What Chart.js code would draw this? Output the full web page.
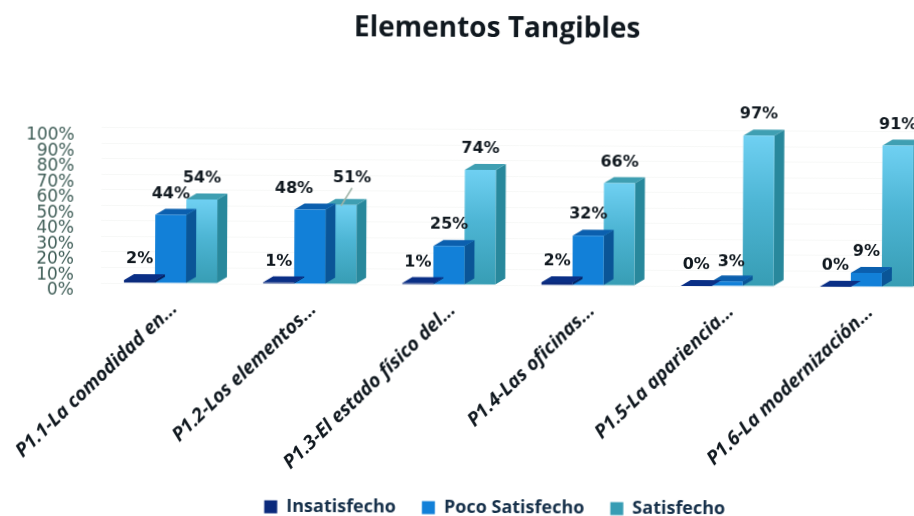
<!DOCTYPE html>
<html lang="es">
<head>
<meta charset="utf-8">
<title>Elementos Tangibles</title>
<script src="https://cdn.jsdelivr.net/npm/chart.js@4"></script>
<style>
  html, body { margin: 0; padding: 0; width: 914px; height: 516px; overflow: hidden; background: #fff; }
  #wrap { position: absolute; left: 0; top: 0; width: 992px; height: 516px; transform: rotate(0.3deg); transform-origin: 496px 258px; }
</style>
</head>
<body>
<div id="wrap"><canvas id="chart" width="992" height="516"></canvas></div>
<script>
const categories = ['P1.1-La comodidad en...', 'P1.2-Los elementos...', 'P1.3-El estado físico del...', 'P1.4-Las oficinas...', 'P1.5-La apariencia...', 'P1.6-La modernización...'];
const insatisfecho = [2, 1, 1, 2, 0, 0];
const pocoSatisfecho = [44, 48, 25, 32, 3, 9];
const satisfecho = [54, 51, 74, 66, 97, 91];
const seriesNames = ['Insatisfecho', 'Poco Satisfecho', 'Satisfecho'];
const yTicks = [0, 10, 20, 30, 40, 50, 60, 70, 80, 90, 100];

// Extruded faces of each series
const DEPTH_X = 10, DEPTH_Y = 6;
const faces = [
  { top: '#0a2f86', side: '#06205f' },
  { top: '#0b5fae', side: '#0a5597' },
  { top: '#3f9fb2', side: '#28889c' }
];

// Value labels that sit away from their bar: [series, category, dx, dy]
const labelNudges = [[1, 1, -16, 0], [2, 1, 11, -6], [1, 4, 4, 2]];

function lightBarFill(ctx) {
  const solid = '#4fb8d6';
  if (ctx.type !== 'data') return solid;
  const y = ctx.chart.scales.y;
  const top = y.getPixelForValue(ctx.raw), base = y.getPixelForValue(0);
  if (!Number.isFinite(top) || !Number.isFinite(base)) return solid;
  const g = ctx.chart.ctx.createLinearGradient(0, top, 0, base);
  g.addColorStop(0, '#6fd0f2');
  g.addColorStop(0.45, '#4db5d4');
  g.addColorStop(1, '#379db4');
  return g;
}

// Draws the top and side of every bar just before the front faces of its series
const extrude = {
  id: 'extrude',
  beforeDatasetDraw(chart, args) {
    const { ctx } = chart, f = faces[args.index];
    chart.getDatasetMeta(args.index).data.forEach(bar => {
      const { x, y, base, width } = bar.getProps(['x', 'y', 'base', 'width'], true);
      const l = x - width / 2, r = x + width / 2;
      ctx.fillStyle = f.side;
      ctx.beginPath();
      ctx.moveTo(r, y); ctx.lineTo(r + DEPTH_X, y - DEPTH_Y);
      ctx.lineTo(r + DEPTH_X, base - DEPTH_Y); ctx.lineTo(r, base);
      ctx.closePath(); ctx.fill();
      ctx.fillStyle = f.top;
      ctx.beginPath();
      ctx.moveTo(l, y); ctx.lineTo(l + DEPTH_X, y - DEPTH_Y);
      ctx.lineTo(r + DEPTH_X, y - DEPTH_Y); ctx.lineTo(r, y);
      ctx.closePath(); ctx.fill();
    });
  },
  afterDatasetsDraw(chart) {
    const { ctx } = chart;
    ctx.save();
    ctx.font = 'bold 16px "DejaVu Sans"';
    ctx.fillStyle = '#10181f';
    ctx.textAlign = 'center';
    ctx.textBaseline = 'middle';
    chart.data.datasets.forEach((ds, s) => {
      chart.getDatasetMeta(s).data.forEach((bar, i) => {
        const n = labelNudges.find(a => a[0] === s && a[1] === i);
        const lx = bar.x + (n ? n[2] : 0), ly = bar.y - 21 + (n ? n[3] : 0);
        ctx.fillText(ds.data[i] + '%', lx, ly);
        if (s === 2 && i === 1) {
          // Leader line joining the displaced label to its bar
          ctx.strokeStyle = '#9fb4a8';
          ctx.lineWidth = 1.5;
          ctx.beginPath();
          ctx.moveTo(lx, ly + 10);
          ctx.lineTo(bar.x, bar.y + 1);
          ctx.stroke();
        }
      });
    });
    ctx.restore();
  }
};

new Chart(document.getElementById('chart'), {
  type: 'bar',
  data: {
    labels: categories,
    datasets: [
      { label: seriesNames[0], data: insatisfecho, backgroundColor: '#0b2a7c' },
      { label: seriesNames[1], data: pocoSatisfecho, backgroundColor: '#1280d8' },
      { label: seriesNames[2], data: satisfecho, backgroundColor: lightBarFill }
    ]
  },
  plugins: [extrude],
  options: {
    responsive: false,
    animation: false,
    layout: { padding: { left: 0, right: 0, top: 12, bottom: -11 } },
    datasets: { bar: { categoryPercentage: 0.668, barPercentage: 1, borderWidth: 0 } },
    scales: {
      x: {
        grid: { display: false },
        border: { display: false },
        ticks: {
          autoSkip: false, minRotation: 44, maxRotation: 44, padding: 6, labelOffset: 4,
          color: '#10181f', font: { family: '"Open Sans"', size: 19.2, style: 'italic', weight: 'bold' }
        },
        afterFit(scale) { scale.height = 188; }
      },
      y: {
        min: 0, max: 100,
        afterBuildTicks(scale) { scale.ticks = yTicks.map(value => ({ value })); },
        grid: { color: '#f7f8f7', drawTicks: false },
        border: { display: false },
        ticks: {
          autoSkip: false,
          callback: v => v + '%', padding: 27, labelOffset: 8,
          color: '#3f5d57', font: { family: '"DejaVu Sans"', size: 17 }
        },
        afterFit(scale) { scale.width = 101; }
      },
      // Empty strip that leaves the plot running past the right edge of the page
      margin: {
        position: 'right', min: 0, max: 1,
        grid: { display: false }, border: { display: false }, ticks: { display: false },
        afterFit(scale) { scale.width = 56; }
      }
    },
    plugins: {
      tooltip: { enabled: false },
      title: {
        display: true, text: 'Elementos Tangibles',
        color: '#10181f', font: { family: '"Open Sans"', size: 28, weight: 'bold' },
        padding: { top: 0, bottom: 84 }
      },
      legend: {
        position: 'bottom',
        labels: {
          boxWidth: 13, boxHeight: 13, padding: 26,
          color: '#16304a', font: { family: '"Open Sans"', size: 18, weight: 'bold' }
        }
      }
    }
  }
});
</script>
</body>
</html>
